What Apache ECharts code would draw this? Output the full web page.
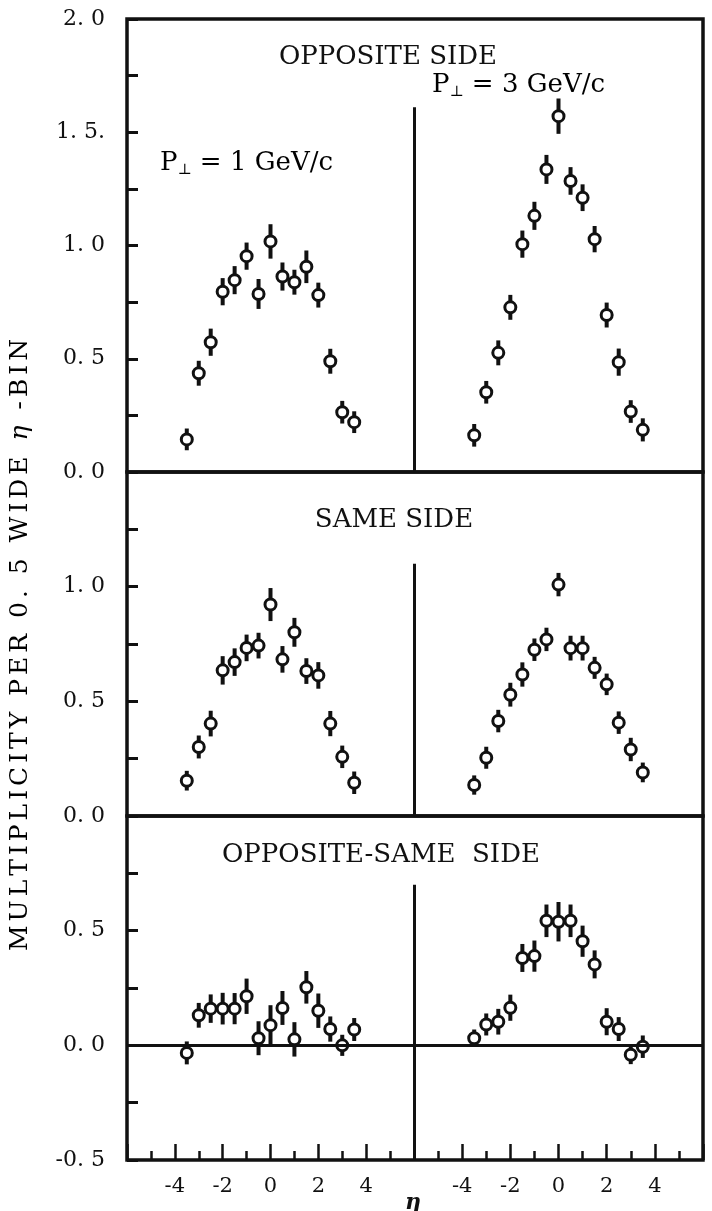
<!DOCTYPE html>
<html>
<head>
<meta charset="utf-8">
<script src="https://cdn.jsdelivr.net/npm/echarts@6/dist/echarts.min.js"></script>
<style>
html,body{margin:0;padding:0;background:#fff;}
#chart{width:712px;height:1211px;}
</style>
</head>
<body>
<div id="chart"></div>
<script>
// ---- data ----
const eta = [-3.5,-3,-2.5,-2,-1.5,-1,-0.5,0,0.5,1,1.5,2,2.5,3,3.5];

const oppP1    = [0.144,0.436,0.573,0.796,0.847,0.953,0.786,1.018,0.863,0.838,0.906,0.781,0.489,0.264,0.220];
const oppP1Err = [0.048,0.055,0.060,0.060,0.062,0.060,0.066,0.076,0.062,0.055,0.072,0.055,0.055,0.050,0.048];
const oppP3    = [0.162,0.352,0.526,0.727,1.006,1.131,1.336,1.571,1.285,1.211,1.028,0.693,0.485,0.267,0.186];
const oppP3Err = [0.050,0.050,0.055,0.055,0.060,0.062,0.064,0.078,0.061,0.059,0.058,0.055,0.060,0.050,0.051];

const sameP1    = [0.154,0.301,0.403,0.635,0.671,0.733,0.743,0.922,0.683,0.801,0.632,0.613,0.403,0.258,0.145];
const sameP1Err = [0.043,0.050,0.056,0.062,0.060,0.058,0.056,0.072,0.058,0.063,0.056,0.058,0.055,0.049,0.049];
const sameP3    = [0.135,0.254,0.414,0.529,0.617,0.725,0.770,1.009,0.732,0.732,0.646,0.574,0.407,0.290,0.190];
const sameP3Err = [0.042,0.048,0.049,0.052,0.053,0.049,0.051,0.051,0.054,0.054,0.048,0.047,0.049,0.051,0.043];

const diffP1    = [-0.033,0.131,0.160,0.160,0.160,0.214,0.031,0.088,0.163,0.026,0.253,0.151,0.071,0.000,0.069];
const diffP1Err = [0.050,0.054,0.062,0.069,0.068,0.077,0.074,0.087,0.074,0.075,0.071,0.075,0.055,0.046,0.050];
const diffP3    = [0.031,0.091,0.103,0.164,0.381,0.389,0.543,0.539,0.543,0.454,0.353,0.103,0.071,-0.041,-0.006];
const diffP3Err = [0.038,0.048,0.056,0.057,0.061,0.068,0.071,0.086,0.071,0.068,0.061,0.059,0.052,0.041,0.049];

// axis ranges per row and the height where the centre divider starts
const rowYRange   = [[0, 2], [0, 1.5], [-0.5, 1.0]];
const dividerTop  = [1.61, 1.10, 0.70];
const xRange      = [-6, 6];

// tick labels
const yTickLabels = [
  {'2': '2. 0', '1.5': '1. 5.', '1': '1. 0', '0.5': '0. 5', '0': '0. 0'},
  {'1': '1. 0', '0.5': '0. 5', '0': '0. 0'},
  {'0.5': '0. 5', '0': '0. 0', '-0.5': '-0. 5'}
];
const xTickLabels = {'-4': '-4', '-2': '-2', '0': '0', '2': '2', '4': '4'};

const panelTitles = ['OPPOSITE SIDE', 'SAME SIDE', 'OPPOSITE-SAME  SIDE'];
const yTitle = 'MULTIPLICITY PER 0. 5 WIDE η -BIN';

// ---- layout ----
const L = 127, D = 414, R = 703;
const rowTop = [19, 472, 816];
const rowH = [453, 344, 344];
const INK = '#111111';
const FONT = '"DejaVu Serif", "Liberation Serif", serif';

const panels = [
  [oppP1, oppP1Err], [oppP3, oppP3Err],
  [sameP1, sameP1Err], [sameP3, sameP3Err],
  [diffP1, diffP1Err], [diffP3, diffP3Err]
];

const grid = [], xAxis = [], yAxis = [], series = [];

// row frames with y ticks/labels
for (let r = 0; r < 3; r++) {
  grid.push({left: L, top: rowTop[r], width: R - L, height: rowH[r], show: true,
    borderColor: INK, borderWidth: 3.5, backgroundColor: 'transparent', z: 5});
  xAxis.push({gridIndex: r, type: 'value', min: 0, max: 1, show: false});
  const labels = yTickLabels[r];
  yAxis.push({gridIndex: r, type: 'value', min: rowYRange[r][0], max: rowYRange[r][1], interval: 0.25,
    axisLine: {show: false, onZero: false}, splitLine: {show: false},
    axisTick: {show: true, inside: true, length: 11, lineStyle: {color: INK, width: 3}},
    axisLabel: {show: true, showMinLabel: true, showMaxLabel: true, margin: 22,
      color: INK, fontFamily: FONT, fontSize: 22,
      formatter: v => { const k = String(Math.round(v * 100) / 100); return labels[k] !== undefined ? labels[k] : ''; }}
  });
}

// data panels
for (let p = 0; p < 6; p++) {
  const r = Math.floor(p / 2), c = p % 2;
  const gi = 3 + p;
  const left = c === 0 ? L : D;
  const width = c === 0 ? D - L : R - D;
  grid.push({left: left, top: rowTop[r], width: width, height: rowH[r], show: false});
  const bottomRow = r === 2;
  xAxis.push({gridIndex: gi, type: 'value', position: 'bottom', min: xRange[0], max: xRange[1], interval: 2,
    show: true,
    axisLine: {show: false, onZero: false}, splitLine: {show: false},
    axisTick: {show: bottomRow, inside: true, length: 16, lineStyle: {color: INK, width: 2.5}},
    minorTick: {show: bottomRow, splitNumber: 2, length: 9, lineStyle: {color: INK, width: 2.5}},
    axisLabel: {show: bottomRow, margin: 16, color: INK, fontFamily: FONT, fontSize: 21,
      showMinLabel: true, showMaxLabel: true,
      formatter: v => { const k = String(v); return xTickLabels[k] !== undefined ? xTickLabels[k] : ''; }}
  });
  yAxis.push({gridIndex: gi, type: 'value', min: rowYRange[r][0], max: rowYRange[r][1], show: false,
    axisLine: {onZero: false}, splitLine: {show: false}});

  const vals = panels[p][0], errs = panels[p][1];
  const pts = eta.map((x, i) => [x, vals[i], errs[i]]);

  series.push({
    type: 'custom', xAxisIndex: gi, yAxisIndex: gi, z: 3, silent: true,
    data: pts,
    renderItem: function (params, api) {
      const x = api.value(0), y = api.value(1), e = api.value(2);
      const a = api.coord([x, y - e]), b = api.coord([x, y + e]);
      return {type: 'line', shape: {x1: a[0], y1: a[1], x2: b[0], y2: b[1]},
        style: {stroke: INK, lineWidth: 4}};
    }
  });

  const marks = [];
  if (c === 0) {
    marks.push([{coord: [xRange[1], rowYRange[r][0]]}, {coord: [xRange[1], dividerTop[r]]}]);
  }
  if (bottomRow) {
    marks.push([{coord: [xRange[0], 0]}, {coord: [xRange[1], 0]}]);
  }
  series.push({
    type: 'scatter', xAxisIndex: gi, yAxisIndex: gi, z: 4, silent: true, clip: false,
    data: pts.map(d => [d[0], d[1]]),
    symbol: 'circle', symbolSize: 11,
    itemStyle: {color: '#ffffff', borderColor: INK, borderWidth: 3, opacity: 1},
    markLine: marks.length ? {silent: true, symbol: 'none', animation: false,
      label: {show: false}, lineStyle: {color: INK, width: 3, type: 'solid'},
      data: marks} : undefined
  });
}

const txt = (x, y, text, size) => ({type: 'text', x: x, y: y, z: 10,
  style: {text: text, fill: INK, font: size + 'px ' + FONT, textAlign: 'center', textVerticalAlign: 'middle'}});

const pLabel = (x, y, val) => ({
  type: 'text', x: x, y: y, z: 10,
  style: {
    text: '{p|P}{s|⊥}{p| = ' + val + ' GeV/c}',
    textAlign: 'left', textVerticalAlign: 'middle',
    rich: {
      p: {fontFamily: FONT, fontSize: 26, color: INK, lineHeight: 30},
      s: {fontFamily: FONT, fontSize: 15, color: INK, lineHeight: 14, verticalAlign: 'bottom'}
    }
  }
});

// y-axis title with a little letter spacing, as in the typewritten original
const yTitleRich = Array.from(yTitle).map(ch => '{' + (ch === 'η' ? 'e' : 'a') + '|' + ch + '}').join('');

const option = {
  backgroundColor: '#ffffff',
  animation: false,
  grid: grid, xAxis: xAxis, yAxis: yAxis, series: series,
  graphic: [
    txt(388, 57, panelTitles[0], 26),
    txt(394, 520, panelTitles[1], 26),
    txt(381, 855, panelTitles[2], 26),
    pLabel(432, 85, '3'),
    pLabel(160, 163, '1'),
    {
      type: 'text', x: 20, y: 645, rotation: Math.PI / 2, z: 10,
      style: {
        text: yTitleRich,
        textAlign: 'center', textVerticalAlign: 'middle',
        rich: {
          a: {fontFamily: FONT, fontSize: 25, color: INK, padding: [0, 2, 0, 2]},
          e: {fontFamily: FONT, fontSize: 25, fontStyle: 'italic', color: INK, padding: [0, 2, 0, 2]}
        }
      }
    },
    {
      type: 'text', x: 413, y: 1203, z: 10,
      style: {text: 'η', fill: INK, font: 'italic bold 22px ' + FONT, textAlign: 'center', textVerticalAlign: 'middle'}
    }
  ]
};

const chart = echarts.init(document.getElementById('chart'), null, {renderer: 'canvas'});
chart.setOption(option);
</script>
</body>
</html>
